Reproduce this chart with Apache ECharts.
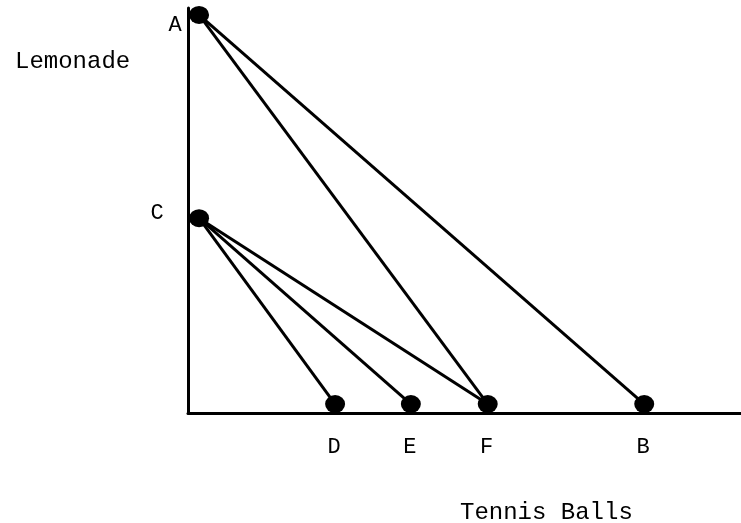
<!DOCTYPE html>
<html>
<head>
<meta charset="utf-8">
<script src="https://cdn.jsdelivr.net/npm/echarts@6/dist/echarts.min.js"></script>
<style>
  html, body { margin: 0; padding: 0; background: #fff; }
  #chart { width: 741px; height: 523px; }
</style>
</head>
<body>
<div id="chart"></div>
<script>
// 点名称与坐标（任意单位）
const pointNames = ['A', 'C', 'D', 'E', 'F', 'B'];
const pointX = [2, 2, 26.6, 40.3, 54.2, 82.5];
const pointY = [98.3, 48.1, 2.2, 2.2, 2.2, 2.2];
// 连线：起点 -> 终点
const segments = [['A', 'B'], ['A', 'F'], ['C', 'D'], ['C', 'E'], ['C', 'F']];

const fontFamily = '"Liberation Mono", "DejaVu Sans Mono", monospace';

function pt(name) {
    let i = pointNames.indexOf(name);
    return [pointX[i], pointY[i]];
}

// 标签偏移
function labelOffset(name) {
    if (name === 'A') return [-24, 10];
    if (name === 'C') return [-42, -5];
    return [-1, 43];
}

let chart = echarts.init(document.getElementById('chart'));

let series = segments.map(s => ({
    type: 'line',
    data: [pt(s[0]), pt(s[1])],
    symbol: 'none',
    silent: true,
    lineStyle: { color: '#000', width: 3 },
    z: 2
}));

series.push({
    type: 'scatter',
    symbolSize: [20, 18],
    itemStyle: { color: '#000', opacity: 1 },
    z: 3,
    data: pointNames.map((n, i) => ({
        name: n,
        value: [pointX[i], pointY[i]],
        label: {
            show: true,
            formatter: n,
            position: 'inside',
            offset: labelOffset(n),
            color: '#000',
            fontFamily: fontFamily,
            fontSize: 22
        }
    }))
});

chart.setOption({
    animation: false,
    backgroundColor: '#fff',
    grid: { left: 188, right: 0, top: 8, bottom: 110 },
    xAxis: {
        type: 'value', min: 0, max: 100,
        axisLine: { show: true, onZero: false, lineStyle: { color: '#000', width: 3 } },
        axisTick: { show: false }, axisLabel: { show: false }, splitLine: { show: false }
    },
    yAxis: {
        type: 'value', min: 0, max: 100,
        axisLine: { show: true, onZero: false, lineStyle: { color: '#000', width: 3 } },
        axisTick: { show: false }, axisLabel: { show: false }, splitLine: { show: false }
    },
    graphic: [
        {
            type: 'text', left: 15, top: 50,
            style: { text: 'Lemonade', font: '24px ' + fontFamily, fill: '#000' }
        },
        {
            type: 'text', left: 460, top: 501,
            style: { text: 'Tennis Balls', font: '24px ' + fontFamily, fill: '#000' }
        }
    ],
    series: series
});
</script>
</body>
</html>
